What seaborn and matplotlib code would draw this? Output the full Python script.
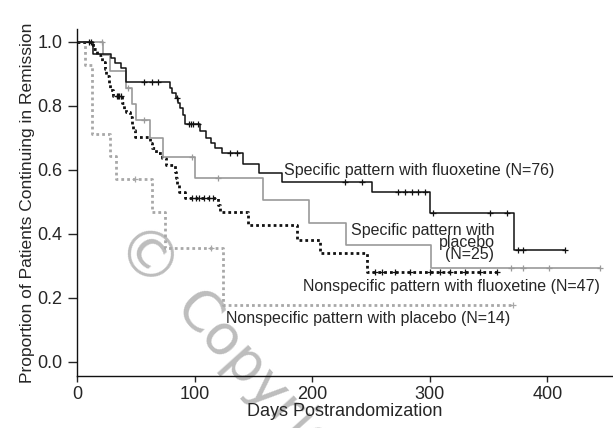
import numpy as np
import matplotlib
matplotlib.use('Agg')
import matplotlib.pyplot as plt
import seaborn as sns

# ---- data (days, proportion in remission) ----
# Specific pattern with fluoxetine (N=76)
sf_days = [0, 14, 29, 32, 37, 42, 79, 81, 84, 86, 88, 90, 92, 105, 110, 114, 117,
           123, 141, 155, 174, 251, 300, 372, 415]
sf_surv = [1.0, 0.962, 0.949, 0.933, 0.918, 0.876, 0.855, 0.84, 0.825, 0.81, 0.794,
           0.772, 0.745, 0.722, 0.70, 0.683, 0.668, 0.652, 0.62, 0.59, 0.563, 0.531,
           0.466, 0.35, 0.35]
sf_cens = [10, 12, 57, 64, 69, 85, 95, 97, 99, 103, 130, 136, 228, 242, 273, 279,
           285, 290, 296, 303, 351, 366, 375, 379, 415]

# Specific pattern with placebo (N=25)
sp_days = [0, 22, 28, 42, 47, 50, 62, 73, 100, 158, 197, 229, 301, 445]
sp_surv = [1.0, 0.96, 0.91, 0.855, 0.806, 0.756, 0.70, 0.64, 0.574, 0.506, 0.435,
           0.366, 0.294, 0.294]
sp_cens = [21, 43, 57, 98, 120, 369, 379, 401, 445]

# Nonspecific pattern with fluoxetine (N=47)
nf_days = [0, 14, 17, 21, 24, 25, 27, 28, 31, 38, 40, 42, 45, 47, 48, 49, 62, 64,
           67, 72, 76, 83, 84, 85, 87, 92, 120, 122, 145, 187, 207, 247, 357]
nf_surv = [1.0, 0.979, 0.958, 0.936, 0.915, 0.894, 0.872, 0.851, 0.83, 0.809, 0.79,
           0.78, 0.766, 0.745, 0.724, 0.703, 0.683, 0.668, 0.652, 0.636, 0.616, 0.595,
           0.574, 0.553, 0.532, 0.512, 0.49, 0.47, 0.428, 0.381, 0.34, 0.282, 0.282]
nf_cens = [34, 35, 36, 37, 98, 101, 104, 108, 112, 116, 253, 259, 270, 283, 300,
           309, 317, 330, 343, 357]

# Nonspecific pattern with placebo (N=14)
np_days = [0, 7, 13, 28, 33, 64, 75, 124, 371]
np_surv = [1.0, 0.929, 0.714, 0.643, 0.571, 0.47, 0.355, 0.178, 0.178]
np_cens = [49, 114, 371]

y_ticks = [0.0, 0.2, 0.4, 0.6, 0.8, 1.0]
x_ticks = [0, 100, 200, 300, 400]


def surv_at(days, surv, t):
    idx = np.searchsorted(days, t, side='right') - 1
    return np.asarray(surv)[idx]


sns.set_style('ticks')
plt.rcParams['font.family'] = ['Liberation Sans', 'DejaVu Sans']

W, H = 613, 428
fig = plt.figure(figsize=(W / 100, H / 100), dpi=100)
ax = fig.add_axes([77 / W, 52 / H, 536 / W, 347 / H])
ax.set_facecolor('none')

curves = [
    (np_days, np_surv, np_cens, '#a8a8a8', (0, (1, 1.1)), 2.0),
    (nf_days, nf_surv, nf_cens, '#111111', (0, (1, 1.1)), 2.0),
    (sp_days, sp_surv, sp_cens, '#9a9a9a', '-', 1.2),
    (sf_days, sf_surv, sf_cens, '#111111', '-', 1.1),
]
for days, surv, cens, col, ls, lw in curves:
    sns.lineplot(x=days, y=surv, ax=ax, drawstyle='steps-post', color=col,
                 linestyle=ls, linewidth=lw, sort=False, estimator=None)
    ax.plot(cens, surv_at(days, surv, cens), linestyle='none', marker='+',
            markersize=5, markeredgewidth=0.9, color=col)

fs = 11.5
ax.text(176, 0.60, 'Specific pattern with fluoxetine (N=76)', fontsize=fs,
        ha='left', va='center')
ax.text(355, 0.372, 'Specific pattern with\nplacebo\n(N=25)', fontsize=fs,
        ha='right', va='center', multialignment='right', linespacing=0.75)
ax.text(445, 0.235, 'Nonspecific pattern with fluoxetine (N=47)', fontsize=fs,
        ha='right', va='center')
ax.text(127, 0.1375, 'Nonspecific pattern with placebo (N=14)', fontsize=fs,
        ha='left', va='center')

# watermark
wm = dict(transform=fig.transFigure, color='#bdbdbd', rotation=-48,
          rotation_mode='anchor', zorder=0.5, clip_on=False, family='DejaVu Sans')
ax.text(143 / W, 1 - 263 / H, '\u00a9', fontsize=46, ha='center', va='center', **wm)
ax.text(184 / W, 1 - 300 / H, 'Copyright', fontsize=40, ha='left', va='center', **wm)

ax.set_xlim(0, 536 / 1.176)
ax.set_ylim(-14 / 320, 1 + 13 / 320)
ax.set_xticks(x_ticks)
ax.set_yticks(y_ticks)
ax.set_yticklabels([f'{v:.1f}' for v in y_ticks])
ax.tick_params(axis='y', direction='out', length=6.5, width=1, labelsize=13, pad=4)
ax.tick_params(axis='x', direction='out', length=4, width=1, labelsize=13, pad=3)
for s in ['top', 'right']:
    ax.spines[s].set_visible(False)
for s in ['left', 'bottom']:
    ax.spines[s].set_linewidth(1.0)
    ax.spines[s].set_color('#111111')

ax.set_xlabel('Days Postrandomization', fontsize=13, labelpad=0)
ax.set_ylabel('Proportion of Patients Continuing in Remission', fontsize=12.5,
              labelpad=2)

fig.savefig('out.png', dpi=100)
